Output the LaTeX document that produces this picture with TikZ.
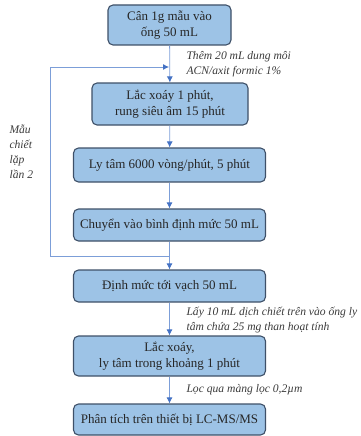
\documentclass[tikz,border=0pt]{standalone}
\usepackage{fontspec}
\setmainfont{Liberation Serif}
\usepackage{xcolor}
\usepackage{tikz}
\usetikzlibrary{arrows.meta}

\definecolor{boxfill}{HTML}{9DC3E6}
\definecolor{boxline}{HTML}{3E5068}
\definecolor{arrowblue}{HTML}{4472C4}
\definecolor{lineblue}{HTML}{7C9ED8}
\definecolor{notegray}{HTML}{3A3A3A}

\begin{document}
\begin{tikzpicture}[x=1pt, y=-1pt,
    stepbox/.style={draw=boxline, line width=1.1pt, fill=boxfill, rounded corners=5pt,
      align=center, font=\fontsize{13}{16}\selectfont, text=black!85, inner sep=0pt},
    note/.style={anchor=west, align=left, font=\fontsize{11.6}{15}\selectfont\itshape, text=notegray},
    flow/.style={draw=lineblue, line width=0.8pt, -{Latex[length=6pt,width=6pt,color=arrowblue]}}]

\useasboundingbox (0,0) rectangle (361,436);

\node[stepbox, minimum width=123pt, minimum height=40pt] (can) at (169.5,25) {Cân 1g mẫu vào\\ống 50 mL};
\node[stepbox, minimum width=156pt, minimum height=42pt] (lac) at (170,104) {Lắc xoáy 1 phút,\\rung siêu âm 15 phút};
\node[stepbox, minimum width=192pt, minimum height=34pt] (lytam) at (169.5,165) {Ly tâm 6000 vòng/phút, 5 phút};
\node[stepbox, minimum width=192pt, minimum height=32pt] (chuyen) at (169.5,225) {Chuyển vào bình định mức 50 mL};
\node[stepbox, minimum width=192pt, minimum height=32pt] (dinhmuc) at (169.5,286) {Định mức tới vạch 50 mL};
\node[stepbox, minimum width=192pt, minimum height=40pt] (lac2) at (169.5,356) {Lắc xoáy,\\ly tâm trong khoảng 1 phút};
\node[stepbox, minimum width=192pt, minimum height=31pt] (phantich) at (169.5,419.5) {Phân tích trên thiết bị LC-MS/MS};

% ghi chu
\node[note] (them) at (183,64.5) {Thêm 20 mL dung môi\\ACN/axit formic 1\%};
\node[note] (mau) at (6,152) {Mẫu\\chiết\\lặp\\lần 2};
\node[note] (lay) at (183,320.5) {Lấy 10 mL dịch chiết trên vào ống ly\\tâm chứa 25 mg than hoạt tính};
\node[note] (loc) at (183,390) {Lọc qua màng lọc 0,2µm};

% duong quay lai
\coordinate (join) at (169.5,256);
\coordinate (joinleft) at (50,256);
\coordinate (topleft) at (50,67);
\coordinate (top) at (169,67);

\draw[flow] (can) -- (lac);
\draw[flow] (lac) -- (lytam);
\draw[flow] (lytam) -- (chuyen);
\draw[flow] (chuyen) -- (dinhmuc);
\draw[flow] (dinhmuc) -- (lac2);
\draw[flow] (lac2) -- (phantich);
\draw[flow] (join) -- (joinleft) -- (topleft) -- (top);

\end{tikzpicture}
\end{document}
